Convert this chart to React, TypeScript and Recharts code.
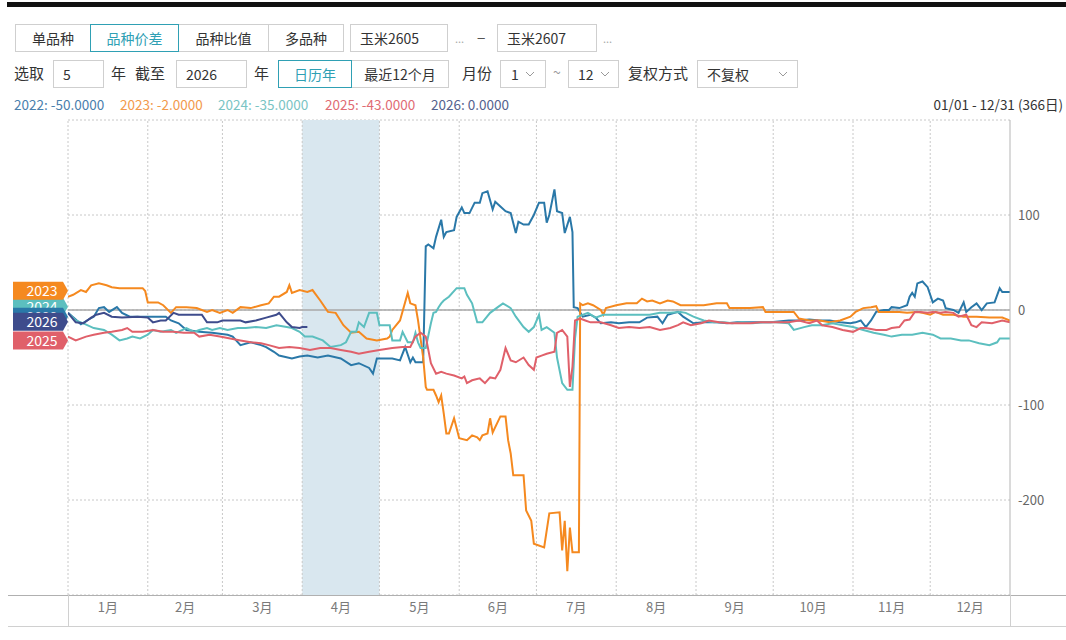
import React from 'react';
import { LineChart, Line, XAxis, YAxis, CartesianGrid, ReferenceLine, ReferenceArea, ReferenceDot } from 'recharts';

// ---------- data ----------
const monthLabels = ['1月', '2月', '3月', '4月', '5月', '6月', '7月', '8月', '9月', '10月', '11月', '12月'];
const monthStarts = [0, 31, 60, 91, 121, 152, 182, 213, 244, 274, 305, 335, 366];
const yTicks = [-300, -200, -100, 0, 100, 200];
const highlightMonth = [91, 121];

// [day of year, spread]
const s2022: number[][] = [
  [0, -3], [3, -10], [5, -15], [8, -10], [10, -7], [12, 2], [14, 3], [16, -2], [19, 3], [21, -3], [24, -7], [27, -7],
  [33, -7], [38, -7], [40, -11], [43, -14], [46, -21], [51, -23], [56, -24], [62, -26], [64, -28], [67, -37], [71, -34],
  [75, -37], [77, -39], [80, -44], [82, -48], [87, -51], [90, -49], [93, -48], [97, -50], [101, -48], [106, -51],
  [110, -58], [113, -56], [117, -61], [118.5, -67], [120, -51], [126, -51], [129, -53], [131, -39], [133, -55],
  [134, -50], [135, -55], [138, -55], [139, 67], [140, 69], [142, 65], [143, 77], [145, 95], [146, 77], [147, 82],
  [150, 84], [151, 98], [153, 108], [154, 102], [156, 102], [158, 113], [160, 113], [161, 123], [163, 125], [165, 106],
  [166, 114], [168, 109], [170, 104], [172, 102], [174, 81], [175, 93], [177, 90], [179, 90], [181, 100], [183, 113],
  [185, 113], [186, 92], [187, 100], [189, 127], [190, 104], [192, 102], [193, 81], [195, 98], [196, 82], [196.5, 3],
  [198, 2], [200, -7], [203, -5], [205, -8], [207, -14], [211, -13], [214, -14], [218, -13], [222, -13], [225, -8],
  [229, -7], [231, -14], [233, -5], [237, -2], [239, -7], [243, -14], [247, -13], [252, -13], [256, -14], [260, -13],
  [268, -13], [273, -13], [280, -11], [284, -11], [288, -10], [292, -11], [296, -11], [300, -13], [304, -14], [306, -13],
  [308, -11], [310, -18], [312, -11], [314, -2], [317, 0], [319, 0], [320, 3], [323, 2], [326, 5], [327, 14], [328, 18],
  [329, 14], [330, 28], [332, 30], [334, 24], [336, 8], [338, 12], [340, 10], [341, 2], [344, 0], [346, -3], [348, 8],
  [349, -2], [351, 3], [353, 7], [355, 0], [357, 7], [360, 8], [362, 23], [363, 19], [366, 19],
];

const s2023: number[][] = [
  [0, 14], [2, 16], [5, 21], [7, 19], [9, 26], [12, 28], [15, 26], [17, 24], [20, 23], [29, 23], [30, 20], [31, 8],
  [35, 8], [37, 5], [40, -3], [42, 3], [46, 3], [50, 2], [54, -2], [56, 0], [59, -3], [62, 0], [64, -3], [67, 3],
  [71, 2], [75, 5], [78, 7], [80, 14], [82, 14], [85, 19], [86, 26], [87, 18], [90, 21], [93, 19], [95, 21], [98, 10],
  [101, -2], [104, -3], [107, -16], [110, -24], [113, -23], [116, -30], [120, -32], [124, -30], [125, -28], [126, -21],
  [129, -11], [132, 18], [133, 7], [135, 5], [136, -11], [138, -50], [139, -81], [139.5, -84], [142, -84], [143, -90],
  [144, -97], [145, -90], [146, -109], [147, -130], [148, -130], [150, -114], [152, -135], [155, -137], [157, -132],
  [159, -134], [160, -137], [161, -132], [163, -130], [164, -114], [165, -129], [168, -112], [170, -112], [171, -137],
  [172, -151], [173, -174], [177, -174], [178, -211], [180, -222], [181, -246], [185, -250], [187, -214], [191, -213],
  [192, -253], [193, -222], [194, -275], [195, -229], [196, -255], [198.5, -255], [199, 7], [200, 5], [202, 7], [204, 5],
  [207, 0], [208, -5], [209, 2], [213, 5], [217, 7], [221, 7], [223, 12], [225, 9], [227, 10], [230, 7], [233, 10],
  [235, 9], [238, 5], [247, 5], [252, 7], [256, 7], [257, 2], [265, 2], [270, 3], [271, -2], [282, -2], [284, -9],
  [288, -11], [292, -11], [296, -13], [300, -11], [304, -7], [306, -2], [309, 2], [312, 3], [314, 4], [315, -2],
  [323, -2], [326, -3], [330, -2], [332, -3], [335, -5], [337, -2], [340, -5], [344, -5], [348, -7], [353, -7],
  [358, -8], [363, -8], [366, -11],
];

const s2024: number[][] = [
  [0, -3], [3, -11], [6, -14], [10, -19], [14, -21], [17, -26], [20, -32], [23, -30], [25, -28], [28, -30], [31, -26],
  [33, -21], [36, -23], [40, -21], [42, -24], [46, -19], [49, -23], [51, -21], [54, -19], [56, -21], [59, -19],
  [62, -21], [66, -19], [69, -19], [73, -18], [77, -19], [81, -16], [85, -18], [87, -19], [90, -23], [92, -28],
  [95, -28], [99, -32], [102, -39], [106, -37], [108, -34], [110, -23], [112, -23], [113, -13], [115, -18], [117, -3],
  [120, -3], [121, -16], [125, -16], [126, -32], [129, -32], [130, -23], [132, -34], [134, -34], [135, -24], [136, -34],
  [137, -40], [139, -40], [141, -14], [142, -3], [143, -2], [144, 3], [145, 7], [146, 10], [148, 14], [151, 23],
  [154, 23], [155, 16], [157, 7], [159, -13], [161, -13], [164, -3], [167, 3], [169, 7], [172, 2], [174, -7],
  [177, -18], [179, -23], [181, -18], [183, -5], [184, -21], [186, -18], [189, -24], [190, -50], [192, -77], [194, -84],
  [196, -84], [197, -30], [198, -7], [202, -3], [205, -8], [208, -5], [212, -5], [216, -5], [221, -5], [226, -5],
  [230, -3], [234, -3], [238, -2], [240, -3], [243, -7], [247, -11], [251, -13], [255, -13], [258, -14], [262, -13],
  [266, -14], [270, -13], [275, -13], [280, -14], [282, -21], [286, -18], [289, -16], [293, -16], [297, -14],
  [301, -16], [305, -18], [309, -21], [313, -24], [317, -26], [320, -28], [324, -26], [328, -26], [332, -24],
  [336, -26], [339, -30], [343, -30], [347, -32], [350, -32], [354, -35], [358, -37], [361, -34], [362, -30], [366, -30],
];

const s2025: number[][] = [
  [0, -28], [3, -32], [7, -28], [10, -26], [14, -24], [17, -23], [21, -21], [23, -19], [25, -23], [29, -23], [33, -21],
  [37, -23], [41, -23], [45, -24], [49, -24], [51, -28], [55, -26], [59, -28], [63, -30], [67, -32], [71, -34],
  [75, -35], [78, -37], [82, -40], [86, -39], [90, -40], [94, -42], [98, -40], [102, -40], [106, -42], [110, -44],
  [113, -46], [117, -44], [121, -42], [126, -40], [130, -39], [133, -39], [135, -28], [137, -24], [139, -28],
  [141, -56], [143, -67], [145, -65], [147, -67], [150, -69], [153, -72], [154, -70], [155, -77], [157, -74],
  [160, -72], [162, -77], [164, -71], [166, -72], [168, -63], [170, -40], [172, -53], [174, -55], [177, -50],
  [179, -58], [181, -63], [182, -50], [184, -48], [186, -46], [189, -44], [190, -24], [192, -21], [194, -28],
  [195, -81], [196, -60], [197, -11], [199, -9], [201, -11], [203, -13], [207, -13], [211, -16], [214, -19],
  [218, -18], [222, -19], [226, -18], [230, -21], [234, -19], [237, -16], [239, -13], [242, -16], [246, -14],
  [249, -11], [253, -13], [257, -14], [265, -14], [269, -13], [280, -13], [284, -11], [288, -14], [291, -11],
  [293, -16], [297, -18], [301, -21], [305, -23], [308, -19], [310, -19], [314, -21], [318, -21], [320, -19],
  [323, -18], [325, -11], [327, -10], [329, -2], [331, -2], [334, -3], [336, -2], [339, -3], [341, -2], [344, -3],
  [346, -7], [349, -5], [351, -16], [353, -18], [355, -13], [359, -14], [363, -11], [366, -13],
];

const s2026: number[][] = [
  [0, -3], [3, -13], [6, -14], [9, -8], [11, -5], [14, -3], [17, -7], [21, -8], [27, -7], [31, -8], [33, -13],
  [36, -11], [38, -11], [41, -3], [43, -5], [52, -5], [54, -13], [58, -13], [60, -11], [67, -11], [69, -13],
  [73, -11], [77, -8], [81, -5], [82, -3], [85, -13], [87, -18], [90, -19], [91, -18], [93, -18],
];

const legendValues = ['-50.0000', '-2.0000', '-35.0000', '-43.0000', '0.0000'];
const dateRange = '01/01 - 12/31 (366日)';

// ---------- styles ----------
const FONT = '"Noto Sans CJK SC", "Noto Sans", sans-serif';
const series = [
  { name: '2022', pts: s2022, color: '#2a78a8', legend: '#4a80ad', legendX: 14, tagDy: 4 },
  { name: '2023', pts: s2023, color: '#f5891f', legend: '#f29a4c', legendX: 120, tagDy: -6 },
  { name: '2024', pts: s2024, color: '#5cbfbf', legend: '#7ac4c4', legendX: 218, tagDy: -6 },
  { name: '2025', pts: s2025, color: '#e0606a', legend: '#df6c74', legendX: 325, tagDy: 4 },
  { name: '2026', pts: s2026, color: '#3e4c8c', legend: '#55628e', legendX: 431, tagDy: 9 },
];
const tagOrder = ['2024', '2022', '2026', '2025', '2023'];

const toData = (pts: number[][]) => pts.map(([day, v]) => ({ day, v }));
const monthMids = monthLabels.map((_, i) => (monthStarts[i] + monthStarts[i + 1]) / 2);

const Tag = (props: any) => {
  const { cx, cy, color, label, dy } = props;
  if (cx == null || cy == null) return null;
  const y = cy + dy;
  return (
    <g>
      <path d={`M${cx - 55},${y - 9} h50 l5,9 l-5,9 h-50 z`} fill={color} />
      <text x={cx - 26} y={y} dy="0.36em" textAnchor="middle" fill="#fff" fontSize={14} fontFamily={FONT}>
        {label}
      </text>
    </g>
  );
};

const abs = (left: number, top: number, extra: any = {}) => ({ position: 'absolute' as const, left, top, ...extra });
const boxStyle = (left: number, top: number, w: number, h: number, extra: any = {}) => ({
  position: 'absolute' as const,
  left,
  top,
  width: w,
  height: h,
  boxSizing: 'border-box' as const,
  border: '1px solid #cfcfcf',
  background: '#fff',
  lineHeight: `${h - 2}px`,
  fontSize: 14,
  color: '#333',
  whiteSpace: 'nowrap' as const,
  ...extra,
});

const Chevron = ({ left, top }: { left: number; top: number }) => (
  <svg style={{ position: 'absolute', left, top }} width={10} height={7}>
    <polyline points="1,1 5,5 9,1" fill="none" stroke="#999" strokeWidth={1} />
  </svg>
);

export default function App() {
  const teal = '#2fa0b4';
  return (
    <div style={{ position: 'absolute', left: 0, top: 0, width: 1066, height: 640, background: '#fff', fontFamily: FONT, overflow: 'hidden' }}>
      <div style={{ position: 'absolute', left: 0, top: 0 }}>
        <LineChart width={1066} height={640} margin={{ top: 120, right: 6, bottom: 15, left: 68 }}>
          <ReferenceArea x1={highlightMonth[0]} x2={highlightMonth[1]} fill="#d9e7ef" fillOpacity={1} stroke="none" />
          <CartesianGrid vertical={false} stroke="#c8c8c8" strokeDasharray="2 2" />
          {monthStarts.slice(0, 12).map((d) => (
            <ReferenceLine key={d} x={d} stroke="#c8c8c8" strokeDasharray="2 2" />
          ))}
          <ReferenceLine y={0} stroke="#a9a9a9" strokeWidth={1.5} />
          <XAxis
            type="number"
            dataKey="day"
            domain={[0, 366]}
            ticks={monthMids}
            interval={0}
            tickFormatter={(v: number) => monthLabels[monthMids.indexOf(v)] ?? ''}
            axisLine={false}
            tickLine={false}
            height={30}
            tick={{ fill: '#7a7a7a', fontSize: 13, fontFamily: FONT }}
            allowDataOverflow
          />
          <YAxis
            orientation="right"
            type="number"
            domain={[-300, 200]}
            ticks={yTicks}
            interval={0}
            tickFormatter={(v: number) => (v === 200 || v === -300 ? '' : String(v))}
            axisLine={{ stroke: '#b5b5b5' }}
            tickLine={false}
            width={50}
            tick={{ fill: '#666', fontSize: 13, fontFamily: FONT }}
            allowDataOverflow
          />
          {series.map((s) => (
            <Line
              key={s.name}
              data={toData(s.pts)}
              dataKey="v"
              name={s.name}
              type="linear"
              stroke={s.color}
              strokeWidth={2}
              dot={false}
              activeDot={false}
              isAnimationActive={false}
            />
          ))}
          {tagOrder.map((name) => {
            const s = series.find((x) => x.name === name)!;
            return (
              <ReferenceDot
                key={'tag' + name}
                x={s.pts[0][0]}
                y={s.pts[0][1]}
                ifOverflow="visible"
                shape={(p: any) => <Tag cx={p.cx} cy={p.cy} color={s.color} label={s.name} dy={s.tagDy} />}
              />
            );
          })}
        </LineChart>
      </div>

      {/* axis band lines */}
      <div style={abs(8, 595, { width: 1058, height: 1, background: '#b0b0b0' })} />
      <div style={abs(8, 626, { width: 1058, height: 1, background: '#d0d0d0' })} />
      <div style={abs(68, 595, { width: 1, height: 31, background: '#d0d0d0' })} />
      <div style={abs(1010, 595, { width: 1, height: 31, background: '#d0d0d0' })} />

      {/* top black bar */}
      <div style={abs(7, 2, { width: 1059, height: 5, background: '#111' })} />

      {/* row 1 */}
      <div style={boxStyle(15, 24, 76, 28, { textAlign: 'center' })}>单品种</div>
      <div style={boxStyle(178, 24, 91, 28, { textAlign: 'center' })}>品种比值</div>
      <div style={boxStyle(268, 24, 76, 28, { textAlign: 'center' })}>多品种</div>
      <div style={boxStyle(90, 24, 89, 28, { textAlign: 'center', border: `1px solid ${teal}`, color: teal })}>品种价差</div>
      <div style={boxStyle(350, 24, 98, 28, { paddingLeft: 9 })}>玉米2605</div>
      <div style={abs(455, 30, { fontSize: 11, color: '#aaa' })}>...</div>
      <div style={abs(477, 27, { fontSize: 15, color: '#555' })}>−</div>
      <div style={boxStyle(497, 24, 100, 28, { paddingLeft: 9 })}>玉米2607</div>
      <div style={abs(603, 30, { fontSize: 11, color: '#aaa' })}>...</div>

      {/* row 2 */}
      <div style={abs(14, 62, { fontSize: 15, color: '#333' })}>选取</div>
      <div style={boxStyle(53, 60, 51, 28, { paddingLeft: 9 })}>5</div>
      <div style={abs(111, 62, { fontSize: 15, color: '#333' })}>年</div>
      <div style={abs(135, 62, { fontSize: 15, color: '#333' })}>截至</div>
      <div style={boxStyle(176, 60, 71, 28, { paddingLeft: 9 })}>2026</div>
      <div style={abs(254, 62, { fontSize: 15, color: '#333' })}>年</div>
      <div style={boxStyle(351, 60, 98, 28, { textAlign: 'center' })}>最近12个月</div>
      <div style={boxStyle(278, 60, 74, 28, { textAlign: 'center', border: `1px solid ${teal}`, color: teal })}>日历年</div>
      <div style={abs(462, 62, { fontSize: 15, color: '#333' })}>月份</div>
      <div style={boxStyle(500, 60, 46, 28, { paddingLeft: 10 })}>1</div>
      <Chevron left={525} top={71} />
      <div style={abs(553, 62, { fontSize: 14, color: '#999' })}>~</div>
      <div style={boxStyle(568, 60, 51, 28, { paddingLeft: 9 })}>12</div>
      <Chevron left={600} top={71} />
      <div style={abs(628, 62, { fontSize: 15, color: '#333' })}>复权方式</div>
      <div style={boxStyle(697, 60, 101, 28, { paddingLeft: 9 })}>不复权</div>
      <Chevron left={778} top={71} />

      {/* legend row */}
      {series.map((s, i) => (
        <div key={'lg' + s.name} style={abs(s.legendX, 94, { fontSize: 13.5, color: s.legend, whiteSpace: 'nowrap' })}>
          {`${s.name}: ${legendValues[i]}`}
        </div>
      ))}
      <div style={abs(0, 94, { width: 1063, textAlign: 'right', fontSize: 13.5, color: '#333', whiteSpace: 'nowrap' })}>
        {dateRange}
      </div>
    </div>
  );
}
